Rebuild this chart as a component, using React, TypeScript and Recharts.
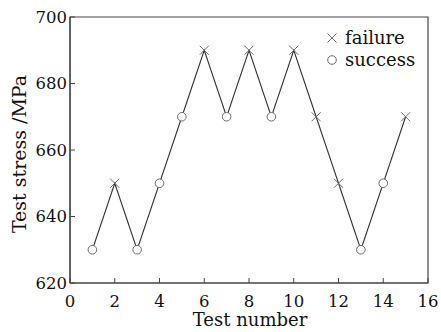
import React from "react";
import {
  LineChart,
  Line,
  XAxis,
  YAxis,
  ReferenceArea,
  Label,
} from "recharts";

if (typeof document !== "undefined") document.body.style.margin = "0";

type Outcome = "failure" | "success";

const testNumbers = [1, 2, 3, 4, 5, 6, 7, 8, 9, 10, 11, 12, 13, 14, 15];
const stresses = [630, 650, 630, 650, 670, 690, 670, 690, 670, 690, 670, 650, 630, 650, 670];
const outcomes: Outcome[] = [
  "success", "failure", "success", "success", "success", "failure", "success", "failure",
  "success", "failure", "failure", "failure", "success", "success", "failure",
];
const xTicks = [0, 2, 4, 6, 8, 10, 12, 14, 16];
const yTicks = [620, 640, 660, 680, 700];

const data = testNumbers.map((n, i) => ({ n, stress: stresses[i], outcome: outcomes[i] }));

const FONT = "'DejaVu Serif', serif";
const MARK = "#6a6a6a";
const AXIS = "#444";

const Cross = ({ cx, cy, s = 4.5 }: { cx: number; cy: number; s?: number }) => (
  <g stroke={MARK} strokeWidth={1}>
    <line x1={cx - s} y1={cy - s} x2={cx + s} y2={cy + s} />
    <line x1={cx - s} y1={cy + s} x2={cx + s} y2={cy - s} />
  </g>
);

const Ring = ({ cx, cy }: { cx: number; cy: number }) => (
  <circle cx={cx} cy={cy} r={4.3} fill="#fff" stroke={MARK} strokeWidth={1} />
);

const renderDot = (p: any) => {
  const { cx, cy, payload, index } = p;
  if (typeof cx !== "number" || typeof cy !== "number") return <g key={index} />;
  return payload.outcome === "failure" ? (
    <Cross key={index} cx={cx} cy={cy} />
  ) : (
    <Ring key={index} cx={cx} cy={cy} />
  );
};

// legend drawn on top of the chart, upper right corner
const LegendBox = () => (
  <svg
    width={110}
    height={50}
    style={{ position: "absolute", left: 325, top: 27, overflow: "visible" }}
  >
    <Cross cx={7} cy={11} s={4.5} />
    <text x={20} y={17} fontFamily={FONT} fontSize={18} fill="#111">failure</text>
    <Ring cx={7} cy={33} />
    <text x={20} y={39} fontFamily={FONT} fontSize={18} fill="#111">success</text>
  </svg>
);

export default function App() {
  return (
    <div style={{ width: 441, height: 332, background: "#fff", position: "relative" }}>
      <LineChart
        width={441}
        height={332}
        data={data}
        margin={{ top: 17, right: 13, left: 0, bottom: 0 }}
        style={{ fontFamily: FONT }}
      >
        <ReferenceArea
          x1={0}
          x2={16}
          y1={620}
          y2={700}
          fill="none"
          stroke={AXIS}
          strokeWidth={1.2}
          ifOverflow="visible"
        />
        <XAxis
          dataKey="n"
          type="number"
          domain={[0, 16]}
          ticks={xTicks}
          height={49}
          tickSize={-5}
          tickMargin={17}
          axisLine={{ stroke: AXIS, strokeWidth: 1.2 }}
          tickLine={{ stroke: AXIS }}
          tick={{ fontSize: 16.5, fill: "#111", fontFamily: FONT }}
        >
          <Label
            content={() => (
              <text x={250} y={326} textAnchor="middle" fontFamily={FONT} fontSize={18} fill="#111">
                Test number
              </text>
            )}
          />
        </XAxis>
        <YAxis
          type="number"
          domain={[620, 700]}
          ticks={yTicks}
          width={70}
          tickSize={-5}
          tickMargin={8}
          axisLine={{ stroke: AXIS, strokeWidth: 1.2 }}
          tickLine={{ stroke: AXIS }}
          tick={{ fontSize: 16.5, fill: "#111", fontFamily: FONT }}
        >
          <Label
            content={() => (
              <text
                x={19}
                y={154}
                transform="rotate(-90 19 154)"
                textAnchor="middle"
                dominantBaseline="central"
                fontFamily={FONT}
                fontSize={19}
                fill="#111"
              >
                Test stress /MPa
              </text>
            )}
          />
        </YAxis>
        <Line
          dataKey="stress"
          stroke="#333"
          strokeWidth={1.1}
          dot={renderDot}
          activeDot={false}
          isAnimationActive={false}
        />
      </LineChart>
      <LegendBox />
    </div>
  );
}
